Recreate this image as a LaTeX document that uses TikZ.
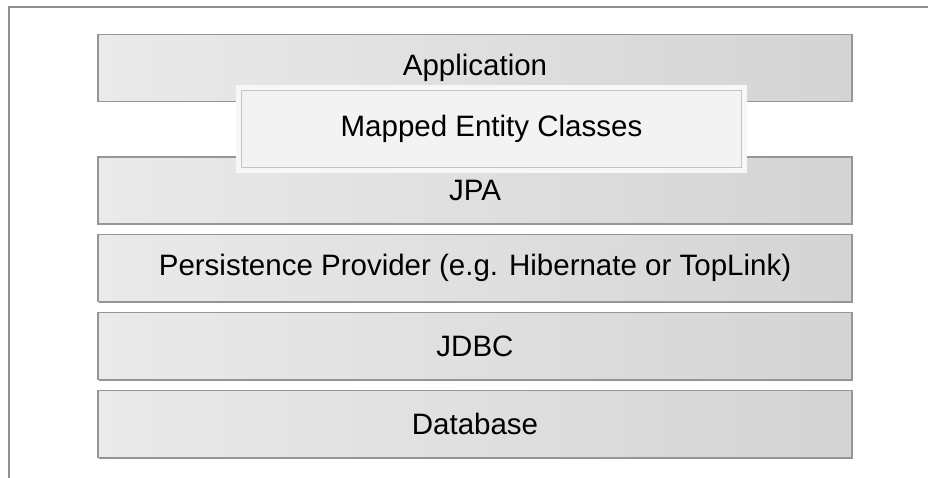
\documentclass[tikz,border=0pt]{standalone}
\usepackage{fontspec}
\setmainfont{Liberation Sans}
\usetikzlibrary{positioning,shadows}
\definecolor{layerlight}{RGB}{234,234,234}
\definecolor{layerdark}{RGB}{212,212,212}
\definecolor{layeredge}{RGB}{150,150,150}
\definecolor{entityfill}{RGB}{243,243,243}
\definecolor{entityedge}{RGB}{196,196,196}
\definecolor{framegray}{RGB}{145,145,145}

\begin{document}
\begin{tikzpicture}[
  x=1pt, y=1pt,
  node distance=9.5pt,
  layer/.style={draw=layeredge, line width=1.4pt, left color=layerlight, right color=layerdark,
                minimum width=754pt, minimum height=67pt, inner sep=0pt,
                font=\fontsize{29.5}{34}\selectfont,
                drop shadow={shadow xshift=1pt, shadow yshift=-1pt, fill=layeredge!80!black, opacity=0.8}},
  entity/.style={draw=entityedge, line width=1pt, fill=entityfill,
                 minimum width=500pt, minimum height=77pt, inner sep=0pt,
                 font=\fontsize{29.5}{34}\selectfont,
                 preaction={draw=black!3, line width=11pt, rounded corners=3pt}},
]
\useasboundingbox (0,0) rectangle (928,478);
% outer frame, open to the right and bottom
\draw[framegray, line width=2pt] (8.5,0) |- (928,470.5);

\node[layer] (app) at (475,410) {Application};
\node[layer, below=54pt of app] (jpa) {JPA};
\node[layer, below=of jpa] (prov) {Persistence Provider (e.g. Hibernate or TopLink)};
\node[layer, below=of prov] (jdbc) {JDBC};
\node[layer, below=of jdbc] (db) {Database};

\node[entity] (ent) at (491.5,349) {Mapped Entity Classes};
\end{tikzpicture}
\end{document}
